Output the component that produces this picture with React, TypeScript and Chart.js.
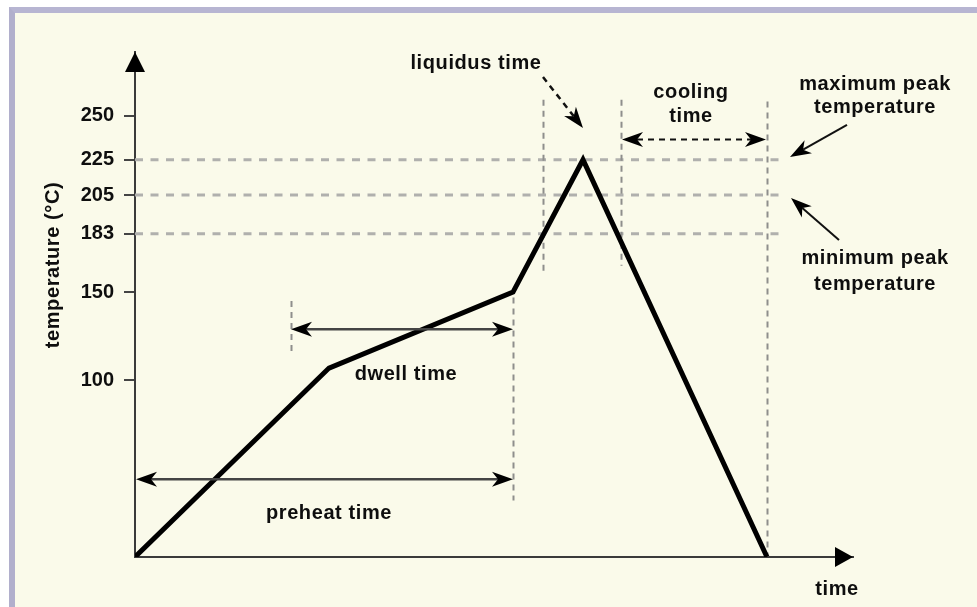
import React, { useEffect, useRef } from "react";
import { Chart, registerables } from "chart.js";

Chart.register(...registerables);

// ---- data ----
const profileTime = [0, 97, 189, 224, 316];
const profileTemp = [0, 107, 150, 225, 0];
const yTickValues = [100, 150, 183, 205, 225, 250];
const refTemps = [225, 205, 183];
const refLineEndTime = 322.5;
const markerTimes = [78, 189, 204, 243, 316];
const markerFromTemp = [145, 147, 259, 259, 258];
const markerToTemp = [114, 32, 162, 165, 0];

const FONT = "'Liberation Sans', Arial, Helvetica, sans-serif";
const TEXT = "#0e0e0e";

type Pt = [number, number];

function head(ctx: CanvasRenderingContext2D, tip: Pt, ang: number, len: number, half: number, notch: number) {
  const dx = Math.cos(ang), dy = Math.sin(ang);
  const bx = tip[0] - len * dx, by = tip[1] - len * dy;
  const px = -dy, py = dx;
  ctx.beginPath();
  ctx.moveTo(tip[0], tip[1]);
  ctx.lineTo(bx + half * px, by + half * py);
  ctx.lineTo(tip[0] - (len - notch) * dx, tip[1] - (len - notch) * dy);
  ctx.lineTo(bx - half * px, by - half * py);
  ctx.closePath();
  ctx.fill();
}

function arrow(
  ctx: CanvasRenderingContext2D,
  a: Pt,
  b: Pt,
  opts: { both?: boolean; dash?: number[]; color?: string; width?: number }
) {
  const ang = Math.atan2(b[1] - a[1], b[0] - a[0]);
  const len = 21, half = 7.5, notch = 6;
  const inset = len - notch;
  const dx = Math.cos(ang), dy = Math.sin(ang);
  const s: Pt = opts.both ? [a[0] + inset * dx, a[1] + inset * dy] : a;
  const e: Pt = [b[0] - inset * dx, b[1] - inset * dy];
  ctx.save();
  ctx.strokeStyle = opts.color || "#222";
  ctx.lineWidth = opts.width || 2;
  ctx.setLineDash(opts.dash || []);
  ctx.beginPath();
  ctx.moveTo(s[0], s[1]);
  ctx.lineTo(e[0], e[1]);
  ctx.stroke();
  ctx.setLineDash([]);
  ctx.fillStyle = "#000";
  head(ctx, b, ang, len, half, notch);
  if (opts.both) head(ctx, a, ang + Math.PI, len, half, notch);
  ctx.restore();
}

const annotate = {
  id: "annotate",
  afterDatasetsDraw(chart: any) {
    const { ctx, chartArea: a, scales } = chart;
    const X = (t: number) => scales.x.getPixelForValue(t);
    const Y = (v: number) => scales.y.getPixelForValue(v);
    ctx.save();
    // axis arrowheads
    ctx.fillStyle = "#000";
    head(ctx, [a.left, a.top], -Math.PI / 2, 20, 10, 0);
    head(ctx, [a.right, a.bottom], 0, 18, 10, 0);

    // dimension arrows
    arrow(ctx, [X(78), Y(129)], [X(189), Y(129)], { both: true, color: "#444", width: 2.5 });
    arrow(ctx, [a.left + 1, Y(44)], [X(189), Y(44)], { both: true, color: "#444", width: 2.5 });
    arrow(ctx, [X(243) + 1, Y(236.5)], [X(316) - 1, Y(236.5)], { both: true, dash: [6, 5], color: "#111", width: 2 });
    arrow(ctx, [X(204), Y(271.8)], [X(224), Y(243)], { dash: [6, 5], color: "#111", width: 2.5 });
    arrow(ctx, [X(356), Y(244.7)], [X(327.5), Y(226.5)], { color: "#111", width: 2 });
    arrow(ctx, [X(352), Y(179.5)], [X(328), Y(203.3)], { color: "#111", width: 2 });

    // texts
    ctx.fillStyle = TEXT;
    ctx.font = `bold 20px ${FONT}`;
    (ctx as any).letterSpacing = "0.6px";
    ctx.textAlign = "center";
    ctx.textBaseline = "alphabetic";
    const txt = (s: string, x: number, y: number) => ctx.fillText(s, x, y);
    txt("liquidus time", X(170.5), Y(276.4));
    txt("cooling", X(278), Y(260));
    txt("time", X(278), Y(246.4));
    txt("maximum peak", X(370), Y(264.5));
    txt("temperature", X(370), Y(251.5));
    txt("minimum peak", X(370), Y(165.9));
    txt("temperature", X(370), Y(151.2));
    txt("dwell time", X(135.5), Y(100));
    txt("preheat time", X(97), Y(21.5));
    txt("time", X(351), a.bottom + 38);

    // y-axis title
    ctx.save();
    ctx.translate(a.left - 82, a.top + 213);
    ctx.rotate(-Math.PI / 2);
    ctx.textBaseline = "middle";
    ctx.fillText("temperature (\u00B0C)", 0, 0);
    ctx.restore();

    ctx.restore();
  },
};

export default function App() {
  const ref = useRef<HTMLCanvasElement | null>(null);

  useEffect(() => {
    if (!ref.current) return;
    const datasets: any[] = [
      {
        label: "profile",
        data: profileTime.map((t, i) => ({ x: t, y: profileTemp[i] })),
        borderColor: "#000",
        borderWidth: 5,
        pointRadius: 0,
        tension: 0,
        borderJoinStyle: "miter",
        order: 0,
      },
    ];
    refTemps.forEach((v) => {
      datasets.push({
        label: "ref " + v,
        data: [
          { x: 0, y: v },
          { x: refLineEndTime, y: v },
        ],
        borderColor: "#b0b0ad",
        borderWidth: 3,
        borderDash: [8, 7.5],
        pointRadius: 0,
        order: 2,
      });
    });
    markerTimes.forEach((t, i) => {
      datasets.push({
        label: "marker " + t,
        data: [
          { x: t + 0.25, y: markerFromTemp[i] },
          { x: t + 0.25, y: markerToTemp[i] },
        ],
        borderColor: "#8e8e8c",
        borderWidth: 2,
        borderDash: [6, 5],
        pointRadius: 0,
        order: 1,
      });
    });

    const chart = new Chart(ref.current, {
      type: "line",
      data: { datasets },
      options: {
        animation: false,
        responsive: false,
        maintainAspectRatio: false,
        events: [],
        layout: { padding: { left: 0, top: 52, right: 124, bottom: 0 } },
        plugins: { legend: { display: false }, tooltip: { enabled: false } },
        scales: {
          x: {
            type: "linear",
            min: 0,
            max: 359,
            afterFit: (s: any) => {
              s.height = 50;
            },
            ticks: { display: false },
            grid: { drawOnChartArea: false, drawTicks: false, color: "#444" },
            border: { display: true, color: "#3a3a3a", width: 2 },
          },
          y: {
            type: "linear",
            min: 0,
            max: 286,
            afterBuildTicks: (s: any) => {
              s.ticks = yTickValues.map((v) => ({ value: v }));
            },
            afterFit: (s: any) => {
              s.width = 135;
            },
            ticks: {
              padding: 10,
              color: TEXT,
              font: { family: FONT, size: 20, weight: "bold" },
              callback: (v: any) => String(v),
            },
            grid: { drawOnChartArea: false, drawTicks: true, tickLength: 11, color: "#444", lineWidth: 2 },
            border: { display: true, color: "#3a3a3a", width: 2 },
          },
        },
      } as any,
      plugins: [annotate],
    });
    return () => chart.destroy();
  }, []);

  return (
    <div style={{ position: "fixed", left: 0, top: 0, width: 977, height: 607, background: "#fff", overflow: "hidden" }}>
      <div
        style={{
          position: "absolute",
          left: 9,
          top: 7,
          width: 1000,
          height: 700,
          boxSizing: "border-box",
          borderLeft: "6px solid #b1afcc",
          borderTop: "6px solid #b7b5d2",
          background: "#fafaea",
        }}
      />
      <canvas ref={ref} width={977} height={607} style={{ position: "absolute", left: 0, top: 0, width: 977, height: 607 }} />
    </div>
  );
}
